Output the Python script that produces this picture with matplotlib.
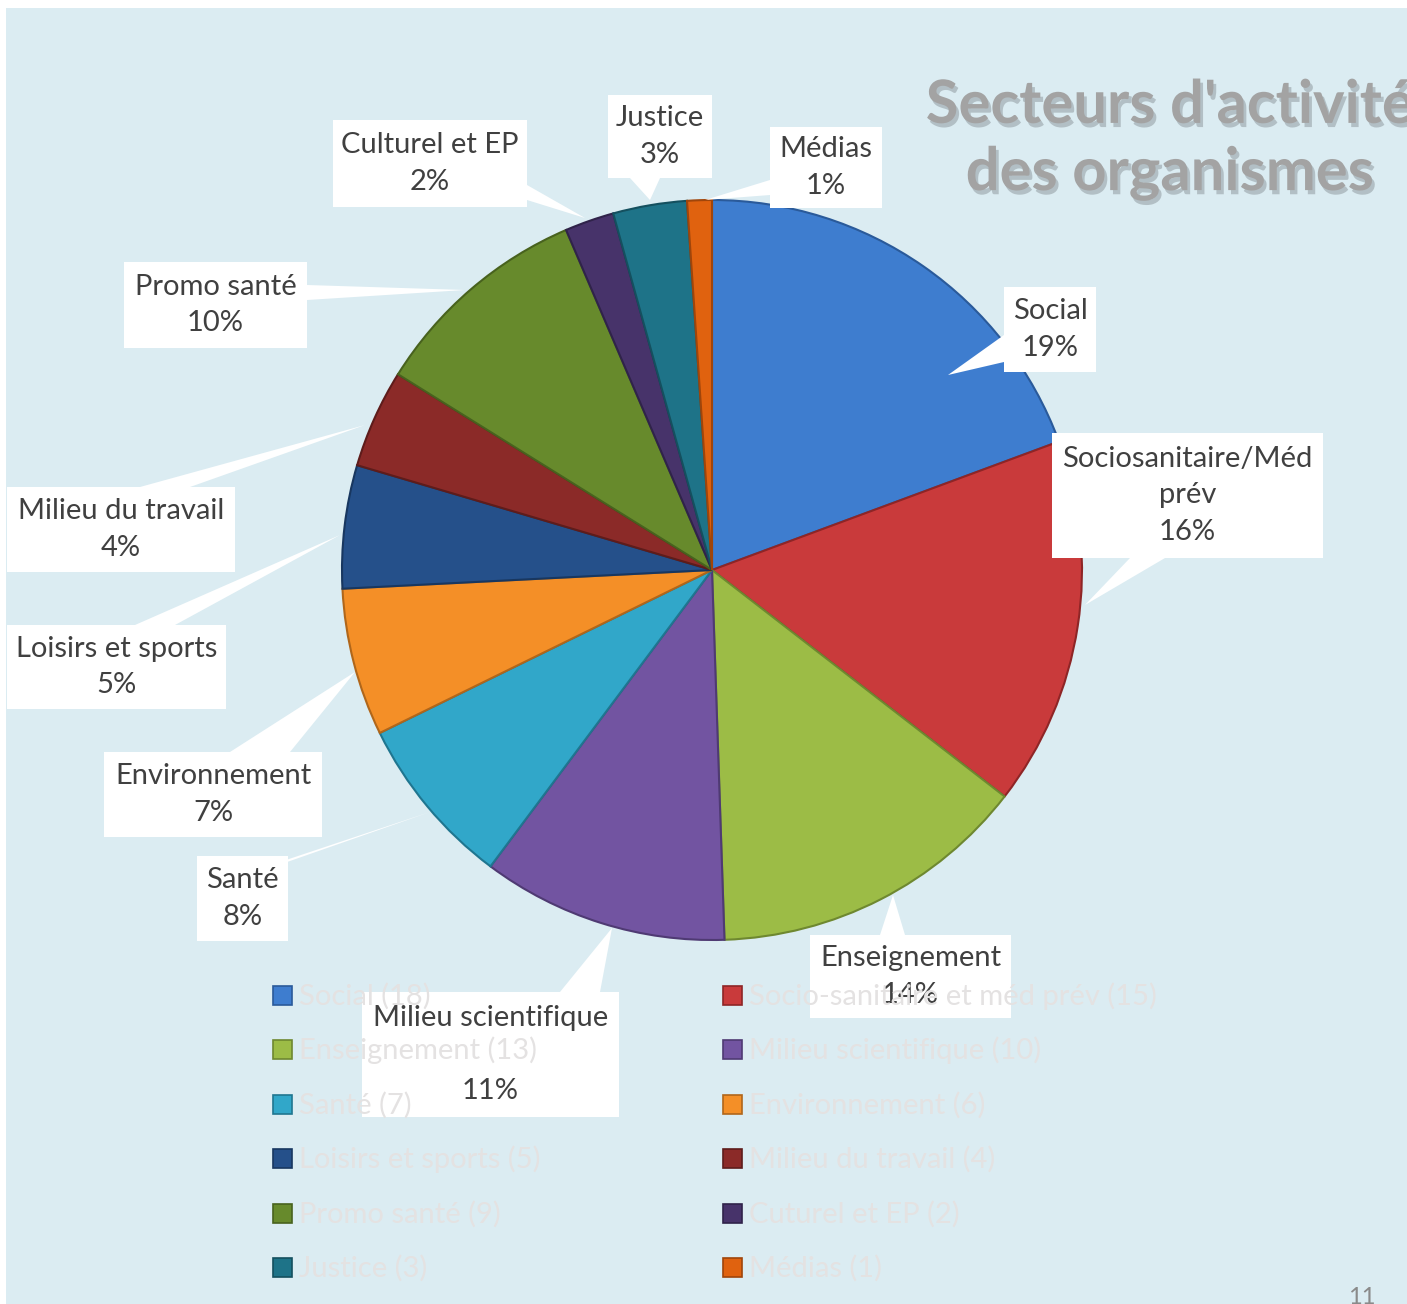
import matplotlib
matplotlib.use("Agg")
import matplotlib.pyplot as plt
from matplotlib.patches import Rectangle, Polygon
import matplotlib.patheffects as pe

plt.rcParams['font.family'] = ['Lato', 'DejaVu Sans']

# data
sectors = ["Social", "Socio-sanitaire et méd prév", "Enseignement", "Milieu scientifique",
           "Santé", "Environnement", "Loisirs et sports", "Milieu du travail",
           "Promo santé", "Cuturel et EP", "Justice", "Médias"]
counts = [18, 15, 13, 10, 7, 6, 5, 4, 9, 2, 3, 1]
slice_labels = ["Social\n19%", "Sociosanitaire/Méd\nprév\n16%", "Enseignement\n14%",
                "Milieu scientifique\n\n11%", "Santé\n8%", "Environnement\n7%",
                "Loisirs et sports\n5%", "Milieu du travail\n4%", "Promo santé\n10%",
                "Culturel et EP\n2%", "Justice\n3%", "Médias\n1%"]
colors = ["#3E7DCF", "#C93A3B", "#9CBC46", "#7254A1", "#31A7C9", "#F48F27",
          "#25508A", "#8B2A28", "#678A2C", "#47336A", "#1E7388", "#E0620F"]
edges = ["#2A5A9A", "#8E2526", "#6E8830", "#4F3A73", "#1F7690", "#B0661A",
         "#183760", "#5E1C1B", "#48621E", "#30234A", "#14505F", "#A0450A"]

# layout (pixel coords, y measured from top)
W, H = 1407, 1304
cx, cy, R = 712, 570, 370
# box: x0, y0, x1, y1 ; leader: base point a, base point b, apex
boxes = [(1004, 287, 1096, 372), (1052, 433, 1323, 558), (810, 935, 1011, 1018),
         (362, 992, 619, 1117), (197, 856, 288, 941), (104, 752, 322, 837),
         (7, 625, 226, 709), (7, 487, 235, 572), (124, 262, 307, 348),
         (333, 120, 527, 207), (608, 95, 712, 178), (770, 127, 882, 208)]
leaders = [((1004, 335), (1004, 362), (948, 375)),
           ((1130, 558), (1165, 558), (1085, 605)),
           ((880, 935), (905, 935), (893, 895)),
           ((560, 992), (600, 992), (612, 928)),
           ((250, 875), (280, 862), (430, 812)),
           ((230, 752), (290, 752), (355, 672)),
           ((135, 625), (175, 625), (340, 535)),
           ((140, 487), (190, 487), (365, 425)),
           ((307, 285), (307, 300), (465, 290)),
           ((527, 185), (527, 200), (585, 218)),
           ((630, 178), (660, 178), (650, 200)),
           ((770, 180), (770, 195), (705, 200))]

leg_cols = [282, 732]
leg_rows = [996, 1050, 1105, 1159, 1214, 1268]

fig = plt.figure(figsize=(W / 100, H / 100), dpi=100, facecolor="white")
ax = fig.add_axes([0, 0, 1, 1])

ax.add_patch(Rectangle((6, 0), W, H - 8, facecolor="#DBECF2", edgecolor="none", zorder=0))

wedges, _ = ax.pie(counts, colors=colors, startangle=90, counterclock=False,
                   center=(cx, H - cy), radius=R, frame=True,
                   wedgeprops=dict(linewidth=1.5))
for w, ec in zip(wedges, edges):
    w.set_edgecolor(ec)
    w.set_zorder(2)
ax.set_xlim(0, W)
ax.set_ylim(0, H)
ax.set_aspect("equal")
ax.axis("off")

for (x0, y0, x1, y1), lead, txt in zip(boxes, leaders, slice_labels):
    ax.add_patch(Rectangle((x0, H - y1), x1 - x0, y1 - y0, facecolor="white",
                           edgecolor="none", zorder=4))
    ax.add_patch(Polygon([(p[0], H - p[1]) for p in lead], closed=True,
                         facecolor="white", edgecolor="none", zorder=4))
    ax.text((x0 + x1) / 2, H - (y0 + y1) / 2, txt, ha="center", va="center",
            fontsize=21, color="#404040", linespacing=1.5, zorder=5)

# legend
for i, (name, n, c, ec) in enumerate(zip(sectors, counts, colors, edges)):
    lx = leg_cols[i % 2]
    ly = H - leg_rows[i // 2]
    ax.add_patch(Rectangle((lx - 9, ly - 9), 19, 19, facecolor=c, edgecolor=ec,
                           linewidth=1.2, zorder=6))
    ax.text(lx + 17, ly, f"{name} ({n})", ha="left", va="center", fontsize=21,
            color="#E4E2E2", zorder=7)

ax.text(1170, H - 140, "Secteurs d'activité\ndes organismes", ha="center", va="center",
        fontsize=43, fontweight="bold", color="#A3A3A3", linespacing=1.3, zorder=5,
        path_effects=[pe.withSimplePatchShadow(offset=(2, -3), shadow_rgbFace="#8A9499", alpha=0.5)])

ax.text(1362, H - 1297, "11", ha="center", va="center", fontsize=17, color="#8A8A8A", zorder=5)

fig.savefig("out.png", dpi=100, facecolor="white")
